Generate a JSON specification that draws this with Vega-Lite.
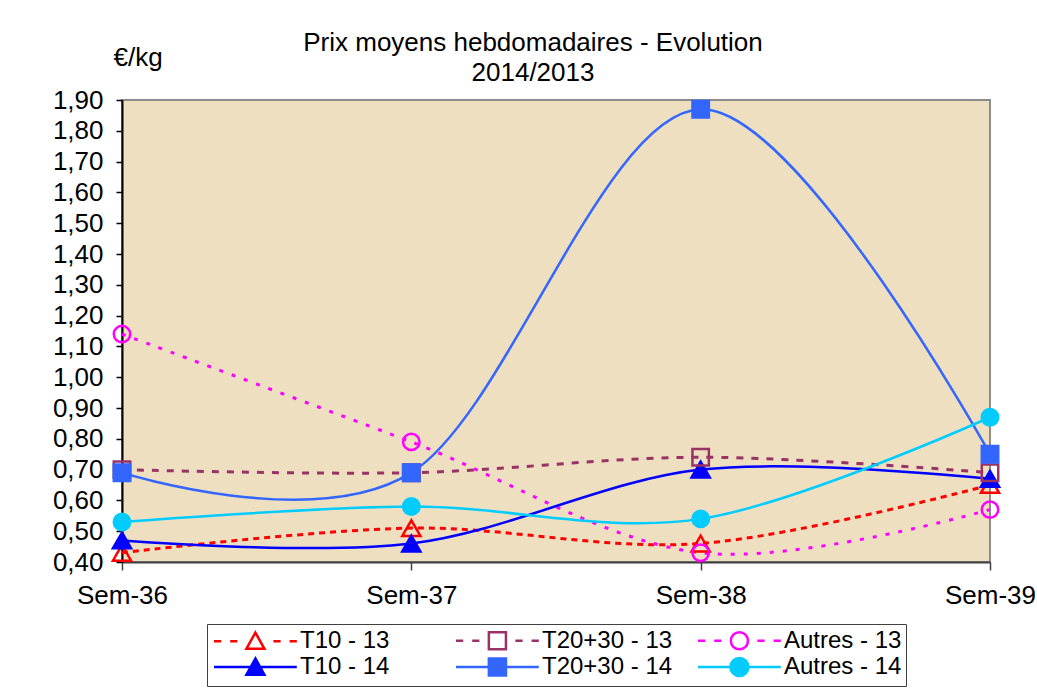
{
  "$schema": "https://vega.github.io/schema/vega-lite/v6.json",
  "width": 868,
  "height": 462,
  "autosize": {"type": "none"},
  "padding": {"left": 122, "top": 100, "right": 47, "bottom": 126},
  "background": "#FFFFFF",
  "title": {
    "text": ["Prix moyens hebdomadaires - Evolution", "2014/2013"],
    "font": "Liberation Sans",
    "fontSize": 26,
    "fontWeight": "normal",
    "color": "#000000",
    "anchor": "middle",
    "dx": -23,
    "offset": -42,
    "lineHeight": 30
  },
  "config": {
    "font": "Liberation Sans",
    "view": {"fill": "#EEDFC0", "stroke": "#8C8C8C", "strokeWidth": 2},
    "axis": {
      "labelFont": "Liberation Sans",
      "labelFontSize": 26,
      "labelColor": "#000000",
      "titleFont": "Liberation Sans",
      "titleFontSize": 26,
      "titleFontWeight": "normal",
      "titleColor": "#000000",
      "grid": false
    },
    "legend": {
      "labelFont": "Liberation Sans",
      "labelFontSize": 24,
      "labelColor": "#000000",
      "labelLimit": 400,
      "symbolStrokeWidth": 2.5,
      "symbolFillColor": "transparent",
      "symbolStrokeColor": "#000000",
      "symbolOpacity": 1,
      "strokeColor": "#404040",
      "fillColor": "#FFFFFF",
      "padding": 4
    }
  },
  "data": {
    "values": [
      {"semaine": "Sem-36", "serie": "T10 - 13", "categorie": "T10", "annee": "13", "prix": 0.43},
      {"semaine": "Sem-37", "serie": "T10 - 13", "categorie": "T10", "annee": "13", "prix": 0.51},
      {"semaine": "Sem-38", "serie": "T10 - 13", "categorie": "T10", "annee": "13", "prix": 0.46},
      {"semaine": "Sem-39", "serie": "T10 - 13", "categorie": "T10", "annee": "13", "prix": 0.65},
      {"semaine": "Sem-36", "serie": "T20+30 - 13", "categorie": "T20+30", "annee": "13", "prix": 0.70},
      {"semaine": "Sem-37", "serie": "T20+30 - 13", "categorie": "T20+30", "annee": "13", "prix": 0.69},
      {"semaine": "Sem-38", "serie": "T20+30 - 13", "categorie": "T20+30", "annee": "13", "prix": 0.74},
      {"semaine": "Sem-39", "serie": "T20+30 - 13", "categorie": "T20+30", "annee": "13", "prix": 0.69},
      {"semaine": "Sem-36", "serie": "Autres - 13", "categorie": "Autres", "annee": "13", "prix": 1.14},
      {"semaine": "Sem-37", "serie": "Autres - 13", "categorie": "Autres", "annee": "13", "prix": 0.79},
      {"semaine": "Sem-38", "serie": "Autres - 13", "categorie": "Autres", "annee": "13", "prix": 0.43},
      {"semaine": "Sem-39", "serie": "Autres - 13", "categorie": "Autres", "annee": "13", "prix": 0.57},
      {"semaine": "Sem-36", "serie": "T10 - 14", "categorie": "T10", "annee": "14", "prix": 0.47},
      {"semaine": "Sem-37", "serie": "T10 - 14", "categorie": "T10", "annee": "14", "prix": 0.46},
      {"semaine": "Sem-38", "serie": "T10 - 14", "categorie": "T10", "annee": "14", "prix": 0.70},
      {"semaine": "Sem-39", "serie": "T10 - 14", "categorie": "T10", "annee": "14", "prix": 0.67},
      {"semaine": "Sem-36", "serie": "T20+30 - 14", "categorie": "T20+30", "annee": "14", "prix": 0.69},
      {"semaine": "Sem-37", "serie": "T20+30 - 14", "categorie": "T20+30", "annee": "14", "prix": 0.69},
      {"semaine": "Sem-38", "serie": "T20+30 - 14", "categorie": "T20+30", "annee": "14", "prix": 1.87},
      {"semaine": "Sem-39", "serie": "T20+30 - 14", "categorie": "T20+30", "annee": "14", "prix": 0.75},
      {"semaine": "Sem-36", "serie": "Autres - 14", "categorie": "Autres", "annee": "14", "prix": 0.53},
      {"semaine": "Sem-37", "serie": "Autres - 14", "categorie": "Autres", "annee": "14", "prix": 0.58},
      {"semaine": "Sem-38", "serie": "Autres - 14", "categorie": "Autres", "annee": "14", "prix": 0.54},
      {"semaine": "Sem-39", "serie": "Autres - 14", "categorie": "Autres", "annee": "14", "prix": 0.87}
    ]
  },
  "encoding": {
    "x": {
      "field": "semaine",
      "type": "ordinal",
      "scale": {"type": "point", "padding": 0},
      "axis": {
        "title": null,
        "labelAngle": 0,
        "labelPadding": 12,
        "tickSize": 8,
        "tickColor": "#404040",
        "tickWidth": 1.5,
        "domainColor": "#404040",
        "domainWidth": 2
      }
    },
    "y": {
      "field": "prix",
      "type": "quantitative",
      "scale": {"domain": [0.4, 1.9], "nice": false, "zero": false},
      "axis": {
        "title": "€/kg",
        "titleAngle": 0,
        "titleAlign": "left",
        "titleBaseline": "alphabetic",
        "titleX": -9,
        "titleY": -35,
        "values": [0.4, 0.5, 0.6, 0.7, 0.8, 0.9, 1.0, 1.1, 1.2, 1.3, 1.4, 1.5, 1.6, 1.7, 1.8, 1.9],
        "labelExpr": "replace(format(datum.value, '.2f'), '.', ',')",
        "labelPadding": 13,
        "tickSize": 6,
        "tickColor": "#000000",
        "tickWidth": 1.5,
        "domainColor": "#000000",
        "domainWidth": 2
      }
    }
  },
  "layer": [
    {
      "transform": [{"filter": "false"}],
      "mark": {"type": "point", "filled": true, "opacity": 1, "size": 324, "strokeWidth": 2.5},
      "encoding": {
        "stroke": {
          "field": "serie", "type": "nominal",
          "scale": {"domain": ["T10 - 13", "T20+30 - 13", "Autres - 13", "T10 - 14", "T20+30 - 14", "Autres - 14"], "range": ["#FF0000", "#993366", "#FF00FF", "#0000FF", "#3366FF", "#00CCFF"]},
          "legend": {"title": null, "orient": "none", "legendX": 85, "legendY": 524, "columns": 3, "direction": "horizontal", "symbolSize": 324, "labelOffset": 65, "columnPadding": 20, "rowPadding": -6, "gridAlign": "all"}
        },
        "fill": {
          "field": "serie", "type": "nominal",
          "scale": {"domain": ["T10 - 13", "T20+30 - 13", "Autres - 13", "T10 - 14", "T20+30 - 14", "Autres - 14"], "range": ["transparent", "transparent", "transparent", "#0000FF", "#3366FF", "#00CCFF"]},
          "legend": {"title": null, "orient": "none", "legendX": 85, "legendY": 524, "columns": 3, "direction": "horizontal", "symbolSize": 324, "labelOffset": 65, "columnPadding": 20, "rowPadding": -6, "gridAlign": "all"}
        },
        "shape": {
          "field": "serie", "type": "nominal",
          "scale": {
            "domain": ["T10 - 13", "T20+30 - 13", "Autres - 13", "T10 - 14", "T20+30 - 14", "Autres - 14"],
            "range": [
              "M-1,0H-0.2M0.8,0H1.6M5.6,0H6.4M7.4,0H8.2M3.6,-0.95L4.6,0.85H2.6Z",
              "M-1,0H-0.2M0.8,0H1.6M5.6,0H6.4M7.4,0H8.2M2.65,-0.95H4.55V0.95H2.65Z",
              "M-1,0H-0.2M0.8,0H1.6M5.6,0H6.4M7.4,0H8.2M2.65,0A0.95,0.95,0,1,0,4.55,0A0.95,0.95,0,1,0,2.65,0Z",
              "M-1,0H8.2M3.6,-0.95L4.6,0.85H2.6Z",
              "M-1,0H8.2M2.65,-0.95H4.55V0.95H2.65Z",
              "M-1,0H8.2M2.6,0A1,1,0,1,0,4.6,0A1,1,0,1,0,2.6,0Z"
            ]
          },
          "legend": {"title": null, "orient": "none", "legendX": 85, "legendY": 524, "columns": 3, "direction": "horizontal", "symbolSize": 324, "labelOffset": 65, "columnPadding": 20, "rowPadding": -6, "gridAlign": "all"}
        }
      }
    },
    {
      "transform": [{"filter": {"field": "serie", "equal": "T10 - 13"}}],
      "mark": {"type": "line", "interpolate": "cardinal", "strokeWidth": 3, "strokeDash": [6, 5]},
      "encoding": {"stroke": {"field": "serie", "type": "nominal"}}
    },
    {
      "transform": [{"filter": {"field": "serie", "equal": "T20+30 - 13"}}],
      "mark": {"type": "line", "interpolate": "cardinal", "strokeWidth": 3, "strokeDash": [7, 8]},
      "encoding": {"stroke": {"field": "serie", "type": "nominal"}}
    },
    {
      "transform": [{"filter": {"field": "serie", "equal": "Autres - 13"}}],
      "mark": {"type": "line", "interpolate": "cardinal", "strokeWidth": 3, "strokeDash": [4, 9]},
      "encoding": {"stroke": {"field": "serie", "type": "nominal"}}
    },
    {
      "transform": [{"filter": {"field": "annee", "equal": "14"}}],
      "mark": {"type": "line", "interpolate": "cardinal", "strokeWidth": 2.5},
      "encoding": {"stroke": {"field": "serie", "type": "nominal"}}
    },
    {
      "transform": [{"filter": {"field": "categorie", "equal": "T10"}}],
      "mark": {"type": "point", "shape": "triangle-up", "filled": true, "opacity": 1, "size": 330, "strokeWidth": 2.5},
      "encoding": {
        "stroke": {"field": "serie", "type": "nominal"},
        "fill": {"field": "serie", "type": "nominal"}
      }
    },
    {
      "transform": [{"filter": {"field": "categorie", "equal": "T20+30"}}],
      "mark": {"type": "point", "shape": "square", "filled": true, "opacity": 1, "size": 270, "strokeWidth": 2.5},
      "encoding": {
        "stroke": {"field": "serie", "type": "nominal"},
        "fill": {"field": "serie", "type": "nominal"}
      }
    },
    {
      "transform": [{"filter": {"field": "categorie", "equal": "Autres"}}],
      "mark": {"type": "point", "shape": "circle", "filled": true, "opacity": 1, "size": 270, "strokeWidth": 2.5},
      "encoding": {
        "stroke": {"field": "serie", "type": "nominal"},
        "fill": {"field": "serie", "type": "nominal"}
      }
    }
  ]
}
